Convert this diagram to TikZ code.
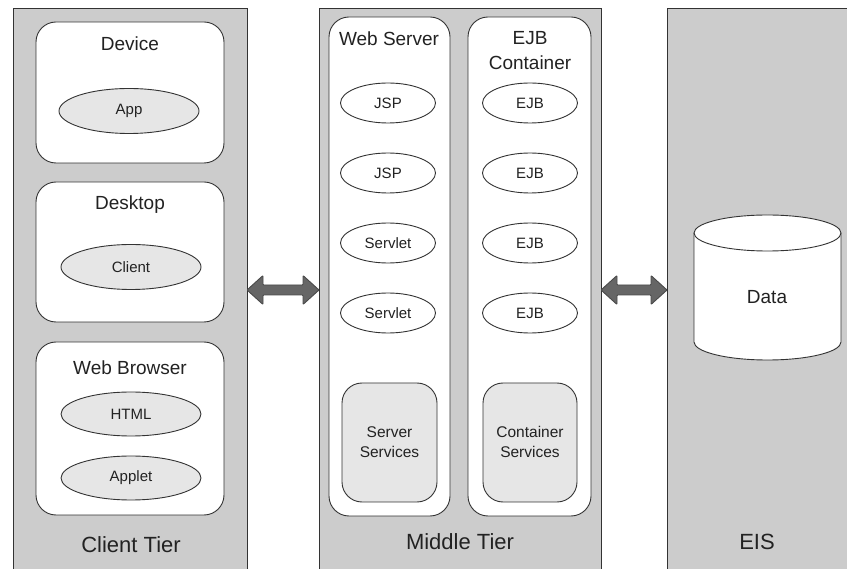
\documentclass[tikz,border=0pt]{standalone}
\usepackage{fontspec}
\setmainfont{Liberation Sans}
\usetikzlibrary{shapes.geometric,calc}

\definecolor{panelgray}{HTML}{CCCCCC}
\definecolor{lightfill}{HTML}{E6E6E6}
\definecolor{edge}{HTML}{333333}
\definecolor{ink}{HTML}{222222}
\definecolor{arrowfill}{HTML}{666666}
\definecolor{arrowedge}{HTML}{4A4A4A}

\tikzset{
  panel/.style={draw=edge, fill=panelgray, line width=0.9pt, rectangle,
    anchor=north west, inner sep=0pt, outer sep=0pt},
  container/.style={draw=edge, fill=white, line width=0.9pt, rectangle,
    rounded corners=20pt, anchor=north west, inner sep=0pt, outer sep=0pt},
  servicebox/.style={container, fill=lightfill, align=center, text=ink,
    font=\fontsize{15.5}{20}\selectfont},
  title/.style={text=ink, font=\fontsize{19}{25}\selectfont, align=center, inner sep=0pt},
  tiername/.style={text=ink, font=\fontsize{22}{26}\selectfont, inner sep=0pt},
  comp/.style={ellipse, draw=edge, line width=0.9pt, inner sep=0pt, text=ink,
    font=\fontsize{15}{18}\selectfont},
  clientcomp/.style={comp, fill=lightfill, minimum width=140pt, minimum height=45pt},
  midcomp/.style={comp, fill=white, minimum width=95pt, minimum height=40pt},
  blockarrow/.style={fill=arrowfill, draw=arrowedge, line width=0.9pt, rounded corners=0.8pt},
}

% double-headed block arrow between two points on one horizontal line
\newcommand\blockdarrow[2]{%
  \draw[blockarrow] (#1)
    -- ($(#1)+(16,-14.5)$) -- ($(#1)+(16,-5)$)
    -- ($(#2)+(-16,-5)$) -- ($(#2)+(-16,-14.5)$)
    -- (#2)
    -- ($(#2)+(-16,14.5)$) -- ($(#2)+(-16,5)$)
    -- ($(#1)+(16,5)$) -- ($(#1)+(16,14.5)$)
    -- cycle;}

\begin{document}
\begin{tikzpicture}[x=1pt, y=-1pt]
  \useasboundingbox (0,0) rectangle (847,569);
  \clip (0,0) rectangle (847,569);

  % tier panels
  \node[panel, minimum width=234pt, minimum height=580pt] (client) at (13,8) {};
  \node[panel, minimum width=282pt, minimum height=580pt] (middle) at (319,8) {};
  \node[panel, minimum width=190pt, minimum height=580pt] (eis) at (667,8) {};

  \node[tiername] (clientlbl) at (131,545) {Client Tier};
  \node[tiername] (middlelbl) at (460,542) {Middle Tier};
  \node[tiername] (eislbl) at (757,542) {EIS};

  % client tier
  \node[container, minimum width=188pt, minimum height=141pt] (device) at (36,22) {};
  \node[title] (devicelbl) at (130,44) {Device};
  \node[clientcomp] (app) at (129,111) {App};

  \node[container, minimum width=188pt, minimum height=140pt] (desktop) at (36,182) {};
  \node[title] (desktoplbl) at (130,205) {Desktop};
  \node[clientcomp] (clientapp) at (131,267) {Client};

  \node[container, minimum width=188pt, minimum height=173pt] (browser) at (36,342) {};
  \node[title] (browserlbl) at (130,368) {Web Browser};
  \node[clientcomp, minimum height=44pt] (html) at (131,414) {HTML};
  \node[clientcomp, minimum height=44pt] (applet) at (131,478) {Applet};

  % middle tier
  \node[container, minimum width=121pt, minimum height=499pt] (webserver) at (329,17) {};
  \node[title] (webserverlbl) at (389,39) {Web Server};
  \node[midcomp] (jspa) at (388,103) {JSP};
  \node[midcomp] (jspb) at (388,173) {JSP};
  \node[midcomp] (servleta) at (388,243) {Servlet};
  \node[midcomp] (servletb) at (388,313) {Servlet};
  \node[servicebox, minimum width=95pt, minimum height=119pt] (srvservices) at (342,383) {};
  \node[text=ink, font=\fontsize{15.5}{20}\selectfont, align=center, inner sep=0pt]
    (srvserviceslbl) at (389.5,442) {Server\\Services};

  \node[container, minimum width=123pt, minimum height=499pt] (ejbcont) at (468,17) {};
  \node[title] (ejbcontlbl) at (530,51) {EJB\\Container};
  \node[midcomp] (ejba) at (530,103) {EJB};
  \node[midcomp] (ejbb) at (530,173) {EJB};
  \node[midcomp] (ejbc) at (530,243) {EJB};
  \node[midcomp] (ejbd) at (530,313) {EJB};
  \node[servicebox, minimum width=94pt, minimum height=119pt] (contservices) at (483,383) {};
  \node[text=ink, font=\fontsize{15.5}{20}\selectfont, align=center, inner sep=0pt]
    (contserviceslbl) at (530,442) {Container\\Services};

  % EIS data store
  \fill[white] (694,233) -- (694,342)
    arc[start angle=180, end angle=0, x radius=73.5, y radius=18]
    -- (841,233)
    arc[start angle=0, end angle=-180, x radius=73.5, y radius=18] -- cycle;
  \draw[edge, line width=0.9pt] (694,233) -- (694,342)
    arc[start angle=180, end angle=0, x radius=73.5, y radius=18]
    -- (841,233);
  \draw[edge, line width=0.9pt] (767.5,233) ellipse[x radius=73.5, y radius=18];
  \node[title] (data) at (767,297) {Data};

  % links between tiers
  \coordinate (linkL) at (client.east |- 0,290);
  \coordinate (linkM) at (middle.west |- 0,290);
  \coordinate (linkN) at (middle.east |- 0,290);
  \coordinate (linkE) at (eis.west |- 0,290);
  \blockdarrow{linkL}{linkM}
  \blockdarrow{linkN}{linkE}
\end{tikzpicture}
\end{document}
